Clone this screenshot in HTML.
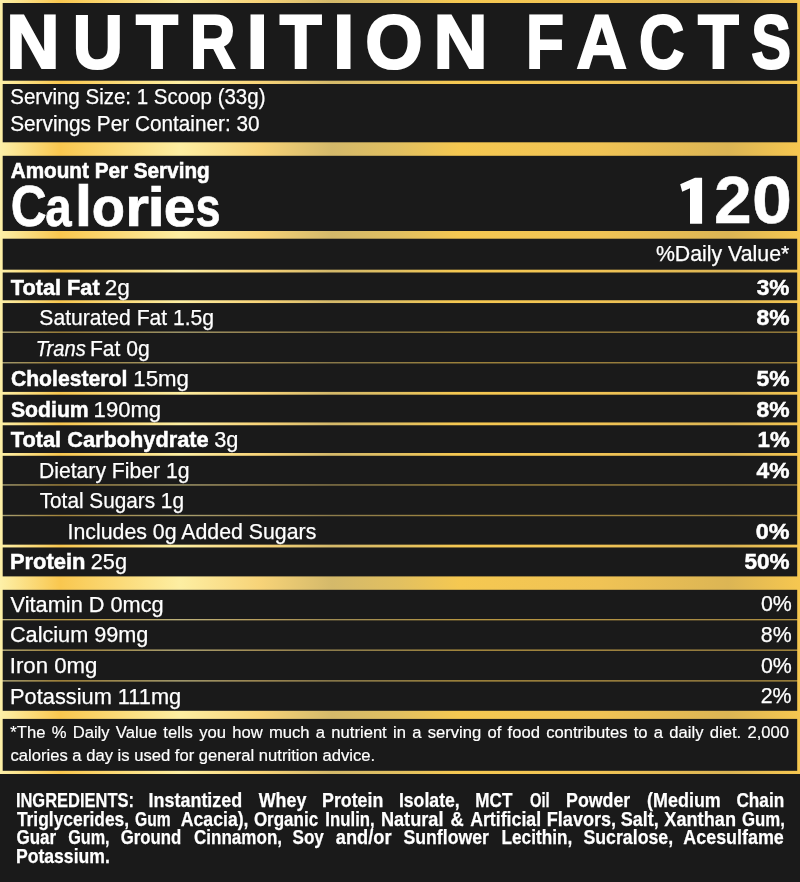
<!DOCTYPE html><html><head><meta charset="utf-8"><title>Nutrition Facts</title><style>

html,body{margin:0;padding:0;background:#1a1a1a;}
body{width:800px;height:882px;position:relative;overflow:hidden;font-family:"Liberation Sans",sans-serif;color:#fff;}
.tx{position:absolute;left:0;top:0;width:800px;height:882px;will-change:transform;}
.bgsvg{position:absolute;left:0;top:0;display:block;}
.t{position:absolute;left:0;white-space:nowrap;line-height:1;margin:0;padding:0;transform-origin:0 0;}
.j{position:absolute;left:0;line-height:1;white-space:nowrap;text-align:justify;text-align-last:justify;transform-origin:0 0;}

</style></head><body>
<svg class="bgsvg" width="800" height="882" viewBox="0 0 800 882">
<defs><linearGradient id="g" x1="0" y1="0" x2="800" y2="0" gradientUnits="userSpaceOnUse">
<stop offset="0" stop-color="#fdf0a8"/>
<stop offset="0.075" stop-color="#f9c74f"/>
<stop offset="0.225" stop-color="#fdeea2"/>
<stop offset="0.325" stop-color="#f7d378"/>
<stop offset="0.415" stop-color="#d4b96a"/>
<stop offset="0.50" stop-color="#e2c060"/>
<stop offset="0.575" stop-color="#f5c851"/>
<stop offset="0.75" stop-color="#f0c355"/>
<stop offset="0.91" stop-color="#dcb554"/>
<stop offset="1" stop-color="#f6c750"/>
</linearGradient></defs>
<rect x="0" y="0" width="2.7" height="774" fill="url(#g)"/>
<rect x="797.2" y="0" width="2.8" height="774" fill="url(#g)"/>
<rect x="0" y="0" width="800" height="3" fill="url(#g)"/>
<rect x="0" y="80.7" width="800" height="3.3" fill="url(#g)"/>
<rect x="0" y="142.3" width="800" height="13.5" fill="url(#g)"/>
<rect x="0" y="231.0" width="800" height="7.7" fill="url(#g)"/>
<rect x="0" y="269.7" width="800" height="2.8" fill="url(#g)"/>
<rect x="0" y="300.25" width="800" height="2.8" fill="url(#g)"/>
<rect x="0" y="331.5" width="800" height="1.4" fill="url(#g)" opacity="0.62"/>
<rect x="0" y="362.05" width="800" height="1.4" fill="url(#g)" opacity="0.62"/>
<rect x="0" y="391.9" width="800" height="2.8" fill="url(#g)"/>
<rect x="0" y="422.45" width="800" height="2.8" fill="url(#g)"/>
<rect x="0" y="453.0" width="800" height="2.8" fill="url(#g)"/>
<rect x="0" y="484.25" width="800" height="1.4" fill="url(#g)" opacity="0.62"/>
<rect x="0" y="514.8" width="800" height="1.4" fill="url(#g)" opacity="0.62"/>
<rect x="0" y="544.65" width="800" height="2.8" fill="url(#g)"/>
<rect x="0" y="576.4" width="800" height="13.4" fill="url(#g)"/>
<rect x="0" y="619.0" width="800" height="1.35" fill="url(#g)" opacity="0.72"/>
<rect x="0" y="649.5" width="800" height="1.35" fill="url(#g)" opacity="0.72"/>
<rect x="0" y="680.2" width="800" height="1.35" fill="url(#g)" opacity="0.72"/>
<rect x="0" y="710.8" width="800" height="8.1" fill="url(#g)"/>
<rect x="0" y="770.8" width="800" height="3.2" fill="url(#g)"/>
<polygon fill="#fff" points="695,177.65 702.1,177.65 702.1,223.8 690,223.8 690,188.3 682.2,191.8 680.2,184.3"/>
</svg>
<div class="tx">
<div class="t" style="top:4.33px;font-size:76.73px;font-weight:bold;-webkit-text-stroke:2.2px #fff;transform:translateX(6.33px) scaleX(0.9627);">N</div>
<div class="t" style="top:4.33px;font-size:76.73px;font-weight:bold;-webkit-text-stroke:2.2px #fff;transform:translateX(72.68px) scaleX(0.9075);">U</div>
<div class="t" style="top:4.33px;font-size:76.73px;font-weight:bold;-webkit-text-stroke:2.2px #fff;transform:translateX(136.08px) scaleX(0.8963);">T</div>
<div class="t" style="top:4.33px;font-size:76.73px;font-weight:bold;-webkit-text-stroke:2.2px #fff;transform:translateX(189.75px) scaleX(0.8259);">R</div>
<div class="t" style="top:4.33px;font-size:76.73px;font-weight:bold;-webkit-text-stroke:2.2px #fff;transform:translateX(246.56px) scaleX(1.0126);">I</div>
<div class="t" style="top:4.33px;font-size:76.73px;font-weight:bold;-webkit-text-stroke:2.2px #fff;transform:translateX(279.86px) scaleX(0.8954);">T</div>
<div class="t" style="top:4.33px;font-size:76.73px;font-weight:bold;-webkit-text-stroke:2.2px #fff;transform:translateX(333.0px) scaleX(1.009);">I</div>
<div class="t" style="top:4.33px;font-size:76.73px;font-weight:bold;-webkit-text-stroke:2.2px #fff;transform:translateX(365.24px) scaleX(0.9616);">O</div>
<div class="t" style="top:4.33px;font-size:76.73px;font-weight:bold;-webkit-text-stroke:2.2px #fff;transform:translateX(433.51px) scaleX(0.9762);">N</div>
<div class="t" style="top:4.33px;font-size:76.73px;font-weight:bold;-webkit-text-stroke:2.2px #fff;transform:translateX(526.05px) scaleX(0.8109);">F</div>
<div class="t" style="top:4.33px;font-size:76.73px;font-weight:bold;-webkit-text-stroke:2.2px #fff;transform:translateX(576.6px) scaleX(0.9103);">A</div>
<div class="t" style="top:4.33px;font-size:76.73px;font-weight:bold;-webkit-text-stroke:2.2px #fff;transform:translateX(638.97px) scaleX(0.8188);">C</div>
<div class="t" style="top:4.33px;font-size:76.73px;font-weight:bold;-webkit-text-stroke:2.2px #fff;transform:translateX(697.9px) scaleX(0.8699);">T</div>
<div class="t" style="top:4.33px;font-size:76.73px;font-weight:bold;-webkit-text-stroke:2.2px #fff;transform:translateX(751.21px) scaleX(0.7774);">S</div>
<div class="t" style="top:85.74px;font-size:21.68px;-webkit-text-stroke:0.25px #fff;transform:translateX(10.26px) scaleX(0.9459);">Serving Size: 1 Scoop (33g)</div>
<div class="t" style="top:113.34px;font-size:21.68px;-webkit-text-stroke:0.25px #fff;transform:translateX(10.17px) scaleX(0.9587);">Servings Per Container: 30</div>
<div class="t" style="top:159.72px;font-size:21.82px;font-weight:bold;-webkit-text-stroke:0.6px #fff;transform:translateX(10.72px) scaleX(0.9488);">Amount Per Serving</div>
<div class="t" style="top:178.15px;font-size:57.23px;font-weight:bold;-webkit-text-stroke:0.7px #fff;transform:translateX(10.64px) scaleX(0.8677);">C</div>
<div class="t" style="top:181.31px;font-size:54.67px;font-weight:bold;-webkit-text-stroke:0.7px #fff;transform:translateX(45.13px) scaleX(0.8659);">a</div>
<div class="t" style="top:178.15px;font-size:57.23px;font-weight:bold;-webkit-text-stroke:0.7px #fff;transform:translateX(74.7px) scaleX(1.0979);">l</div>
<div class="t" style="top:181.31px;font-size:54.67px;font-weight:bold;-webkit-text-stroke:0.7px #fff;transform:translateX(91.83px) scaleX(0.9956);">o</div>
<div class="t" style="top:181.31px;font-size:54.67px;font-weight:bold;-webkit-text-stroke:0.7px #fff;transform:translateX(125.2px) scaleX(1.1193);">r</div>
<div class="t" style="top:179.06px;font-size:56.14px;font-weight:bold;-webkit-text-stroke:0.7px #fff;transform:translateX(147.42px) scaleX(1.1079);">i</div>
<div class="t" style="top:181.31px;font-size:54.67px;font-weight:bold;-webkit-text-stroke:0.7px #fff;transform:translateX(163.83px) scaleX(1.0398);">e</div>
<div class="t" style="top:181.31px;font-size:54.67px;font-weight:bold;-webkit-text-stroke:0.7px #fff;transform:translateX(195.5px) scaleX(0.8221);">s</div>
<div class="t" style="top:167.21px;font-size:66.72px;font-weight:bold;-webkit-text-stroke:0.5px #fff;transform:translateX(714.04px) scaleX(1.016);">2</div>
<div class="t" style="top:167.21px;font-size:66.72px;font-weight:bold;-webkit-text-stroke:0.5px #fff;transform:translateX(752.04px) scaleX(1.0762);">0</div>
<div class="t" style="top:243.12px;font-size:21.82px;-webkit-text-stroke:0.25px #fff;transform:translateX(655.88px) scaleX(0.9769);">%Daily Value*</div>
<div class="t" style="top:277.18px;font-size:22.11px;font-weight:bold;-webkit-text-stroke:0.5px #fff;transform:translateX(10.83px) scaleX(0.982);">Total Fat</div>
<div class="t" style="top:277.18px;font-size:22.11px;-webkit-text-stroke:0.25px #fff;transform:translateX(104.69px) scaleX(1.0239);">2g</div>
<div class="t" style="top:277.18px;font-size:22.11px;font-weight:bold;-webkit-text-stroke:0.5px #fff;transform:translateX(756.7px) scaleX(1.0229);">3%</div>
<div class="t" style="top:306.68px;font-size:22.11px;-webkit-text-stroke:0.25px #fff;transform:translateX(39.37px) scaleX(0.9538);">Saturated Fat 1.5g</div>
<div class="t" style="top:306.68px;font-size:22.11px;font-weight:bold;-webkit-text-stroke:0.5px #fff;transform:translateX(756.47px) scaleX(1.0355);">8%</div>
<div class="t" style="top:338.18px;font-size:22.11px;font-style:italic;-webkit-text-stroke:0.25px #fff;transform:translateX(35.69px) scaleX(0.9125);">Trans</div>
<div class="t" style="top:338.18px;font-size:22.11px;-webkit-text-stroke:0.25px #fff;transform:translateX(89.93px) scaleX(0.9537);">Fat 0g</div>
<div class="t" style="top:367.68px;font-size:22.11px;font-weight:bold;-webkit-text-stroke:0.5px #fff;transform:translateX(10.89px) scaleX(0.9573);">Cholesterol</div>
<div class="t" style="top:367.68px;font-size:22.11px;-webkit-text-stroke:0.25px #fff;transform:translateX(133.32px) scaleX(1.0062);">15mg</div>
<div class="t" style="top:367.68px;font-size:22.11px;font-weight:bold;-webkit-text-stroke:0.5px #fff;transform:translateX(756.53px) scaleX(1.0325);">5%</div>
<div class="t" style="top:399.18px;font-size:22.11px;font-weight:bold;-webkit-text-stroke:0.5px #fff;transform:translateX(10.98px) scaleX(0.9589);">Sodium</div>
<div class="t" style="top:399.18px;font-size:22.11px;-webkit-text-stroke:0.25px #fff;transform:translateX(93.61px) scaleX(0.9988);">190mg</div>
<div class="t" style="top:399.18px;font-size:22.11px;font-weight:bold;-webkit-text-stroke:0.5px #fff;transform:translateX(756.47px) scaleX(1.0355);">8%</div>
<div class="t" style="top:428.68px;font-size:22.11px;font-weight:bold;-webkit-text-stroke:0.5px #fff;transform:translateX(10.83px) scaleX(0.9834);">Total Carbohydrate</div>
<div class="t" style="top:428.68px;font-size:22.11px;-webkit-text-stroke:0.25px #fff;transform:translateX(214.26px) scaleX(0.9834);">3g</div>
<div class="t" style="top:428.68px;font-size:22.11px;font-weight:bold;-webkit-text-stroke:0.5px #fff;transform:translateX(757.56px) scaleX(1.0043);">1%</div>
<div class="t" style="top:460.18px;font-size:22.11px;-webkit-text-stroke:0.25px #fff;transform:translateX(38.9px) scaleX(0.9578);">Dietary Fiber 1g</div>
<div class="t" style="top:460.18px;font-size:22.11px;font-weight:bold;-webkit-text-stroke:0.5px #fff;transform:translateX(756.57px) scaleX(1.0311);">4%</div>
<div class="t" style="top:489.68px;font-size:22.11px;-webkit-text-stroke:0.25px #fff;transform:translateX(39.68px) scaleX(0.9391);">Total Sugars 1g</div>
<div class="t" style="top:521.18px;font-size:22.11px;-webkit-text-stroke:0.25px #fff;transform:translateX(67.53px) scaleX(0.9638);">Includes 0g Added Sugars</div>
<div class="t" style="top:521.18px;font-size:22.11px;font-weight:bold;-webkit-text-stroke:0.5px #fff;transform:translateX(755.87px) scaleX(1.0555);">0%</div>
<div class="t" style="top:550.68px;font-size:22.11px;font-weight:bold;-webkit-text-stroke:0.5px #fff;transform:translateX(9.93px) scaleX(0.9926);">Protein</div>
<div class="t" style="top:550.68px;font-size:22.11px;-webkit-text-stroke:0.25px #fff;transform:translateX(90.79px) scaleX(0.981);">25g</div>
<div class="t" style="top:550.68px;font-size:22.11px;font-weight:bold;-webkit-text-stroke:0.5px #fff;transform:translateX(744.44px) scaleX(1.0186);">50%</div>
<div class="t" style="top:594.86px;font-size:21.54px;-webkit-text-stroke:0.25px #fff;transform:translateX(10.62px) scaleX(1.0098);">Vitamin D 0mcg</div>
<div class="t" style="top:594.46px;font-size:21.54px;-webkit-text-stroke:0.25px #fff;transform:translateX(760.92px) scaleX(0.9918);">0%</div>
<div class="t" style="top:625.46px;font-size:21.54px;-webkit-text-stroke:0.25px #fff;transform:translateX(9.96px) scaleX(1.006);">Calcium 99mg</div>
<div class="t" style="top:625.06px;font-size:21.54px;-webkit-text-stroke:0.25px #fff;transform:translateX(760.85px) scaleX(0.9903);">8%</div>
<div class="t" style="top:656.06px;font-size:21.54px;-webkit-text-stroke:0.25px #fff;transform:translateX(9.7px) scaleX(1.0327);">Iron 0mg</div>
<div class="t" style="top:655.66px;font-size:21.54px;-webkit-text-stroke:0.25px #fff;transform:translateX(760.92px) scaleX(0.9918);">0%</div>
<div class="t" style="top:686.66px;font-size:21.54px;-webkit-text-stroke:0.25px #fff;transform:translateX(10.09px) scaleX(1.0117);">Potassium 111mg</div>
<div class="t" style="top:686.26px;font-size:21.54px;-webkit-text-stroke:0.25px #fff;transform:translateX(760.72px) scaleX(0.9914);">2%</div>
<div class="t" style="top:788.85px;font-size:21.08px;font-weight:bold;-webkit-text-stroke:0.25px #fff;transform:translateX(15.88px) scaleX(0.7816);">INGREDIENTS:</div>
<div class="t" style="top:788.85px;font-size:21.08px;font-weight:bold;-webkit-text-stroke:0.25px #fff;transform:translateX(148.52px) scaleX(0.8517);">Instantized</div>
<div class="t" style="top:788.85px;font-size:21.08px;font-weight:bold;-webkit-text-stroke:0.25px #fff;transform:translateX(258.73px) scaleX(0.848);">Whey</div>
<div class="t" style="top:788.85px;font-size:21.08px;font-weight:bold;-webkit-text-stroke:0.25px #fff;transform:translateX(322.01px) scaleX(0.8443);">Protein</div>
<div class="t" style="top:788.85px;font-size:21.08px;font-weight:bold;-webkit-text-stroke:0.25px #fff;transform:translateX(398.89px) scaleX(0.8377);">Isolate,</div>
<div class="t" style="top:788.85px;font-size:21.08px;font-weight:bold;-webkit-text-stroke:0.25px #fff;transform:translateX(475.32px) scaleX(0.8112);">MCT</div>
<div class="t" style="top:788.85px;font-size:21.08px;font-weight:bold;-webkit-text-stroke:0.25px #fff;transform:translateX(530.0px) scaleX(0.7003);">Oil</div>
<div class="t" style="top:788.85px;font-size:21.08px;font-weight:bold;-webkit-text-stroke:0.25px #fff;transform:translateX(566.02px) scaleX(0.8435);">Powder</div>
<div class="t" style="top:788.85px;font-size:21.08px;font-weight:bold;-webkit-text-stroke:0.25px #fff;transform:translateX(647.11px) scaleX(0.85);">(Medium</div>
<div class="t" style="top:788.85px;font-size:21.08px;font-weight:bold;-webkit-text-stroke:0.25px #fff;transform:translateX(736.4px) scaleX(0.8169);">Chain</div>
<div class="t" style="top:808.35px;font-size:21.08px;font-weight:bold;-webkit-text-stroke:0.25px #fff;transform:translateX(16.92px) scaleX(0.8252);">Triglycerides,</div>
<div class="t" style="top:808.35px;font-size:21.08px;font-weight:bold;-webkit-text-stroke:0.25px #fff;transform:translateX(135.08px) scaleX(0.7419);">Gum</div>
<div class="t" style="top:808.35px;font-size:21.08px;font-weight:bold;-webkit-text-stroke:0.25px #fff;transform:translateX(180.82px) scaleX(0.837);">Acacia),</div>
<div class="t" style="top:808.35px;font-size:21.08px;font-weight:bold;-webkit-text-stroke:0.25px #fff;transform:translateX(253.9px) scaleX(0.8061);">Organic</div>
<div class="t" style="top:808.35px;font-size:21.08px;font-weight:bold;-webkit-text-stroke:0.25px #fff;transform:translateX(325.36px) scaleX(0.7958);">Inulin,</div>
<div class="t" style="top:808.35px;font-size:21.08px;font-weight:bold;-webkit-text-stroke:0.25px #fff;transform:translateX(380.91px) scaleX(0.8614);">Natural</div>
<div class="t" style="top:808.35px;font-size:21.08px;font-weight:bold;-webkit-text-stroke:0.25px #fff;transform:translateX(450.55px) scaleX(0.8675);">&amp;</div>
<div class="t" style="top:808.35px;font-size:21.08px;font-weight:bold;-webkit-text-stroke:0.25px #fff;transform:translateX(470.13px) scaleX(0.8423);">Artificial</div>
<div class="t" style="top:808.35px;font-size:21.08px;font-weight:bold;-webkit-text-stroke:0.25px #fff;transform:translateX(546.8px) scaleX(0.8571);">Flavors,</div>
<div class="t" style="top:808.35px;font-size:21.08px;font-weight:bold;-webkit-text-stroke:0.25px #fff;transform:translateX(620.69px) scaleX(0.8578);">Salt,</div>
<div class="t" style="top:808.35px;font-size:21.08px;font-weight:bold;-webkit-text-stroke:0.25px #fff;transform:translateX(664.26px) scaleX(0.8627);">Xanthan</div>
<div class="t" style="top:808.35px;font-size:21.08px;font-weight:bold;-webkit-text-stroke:0.25px #fff;transform:translateX(741.91px) scaleX(0.7965);">Gum,</div>
<div class="t" style="top:825.75px;font-size:21.08px;font-weight:bold;-webkit-text-stroke:0.25px #fff;transform:translateX(16.45px) scaleX(0.8075);">Guar</div>
<div class="t" style="top:825.75px;font-size:21.08px;font-weight:bold;-webkit-text-stroke:0.25px #fff;transform:translateX(68.15px) scaleX(0.7698);">Gum,</div>
<div class="t" style="top:825.75px;font-size:21.08px;font-weight:bold;-webkit-text-stroke:0.25px #fff;transform:translateX(120.65px) scaleX(0.795);">Ground</div>
<div class="t" style="top:825.75px;font-size:21.08px;font-weight:bold;-webkit-text-stroke:0.25px #fff;transform:translateX(193.88px) scaleX(0.8099);">Cinnamon,</div>
<div class="t" style="top:825.75px;font-size:21.08px;font-weight:bold;-webkit-text-stroke:0.25px #fff;transform:translateX(292.49px) scaleX(0.8109);">Soy</div>
<div class="t" style="top:825.75px;font-size:21.08px;font-weight:bold;-webkit-text-stroke:0.25px #fff;transform:translateX(335.83px) scaleX(0.864);">and/or</div>
<div class="t" style="top:825.75px;font-size:21.08px;font-weight:bold;-webkit-text-stroke:0.25px #fff;transform:translateX(403.45px) scaleX(0.8387);">Sunflower</div>
<div class="t" style="top:825.75px;font-size:21.08px;font-weight:bold;-webkit-text-stroke:0.25px #fff;transform:translateX(501.55px) scaleX(0.8159);">Lecithin,</div>
<div class="t" style="top:825.75px;font-size:21.08px;font-weight:bold;-webkit-text-stroke:0.25px #fff;transform:translateX(583.44px) scaleX(0.8411);">Sucralose,</div>
<div class="t" style="top:825.75px;font-size:21.08px;font-weight:bold;-webkit-text-stroke:0.25px #fff;transform:translateX(683.32px) scaleX(0.8494);">Acesulfame</div>
<div class="t" style="top:845.15px;font-size:21.08px;font-weight:bold;-webkit-text-stroke:0.25px #fff;transform:translateX(15.92px) scaleX(0.8349);">Potassium.</div>
<div class="j" style="width:815.39px;top:724.27px;font-size:17.4px;-webkit-text-stroke:0.2px #fff;transform:translateX(10.3px) scaleX(0.955);">*The % Daily Value tells you how much a nutrient in a serving of food contributes to a daily diet. 2,000</div>
<div class="j" style="width:380.84px;top:746.87px;font-size:17.4px;-webkit-text-stroke:0.2px #fff;transform:translateX(10.5px) scaleX(0.955);">calories a day is used for general nutrition advice.</div>
</div>
</body></html>
